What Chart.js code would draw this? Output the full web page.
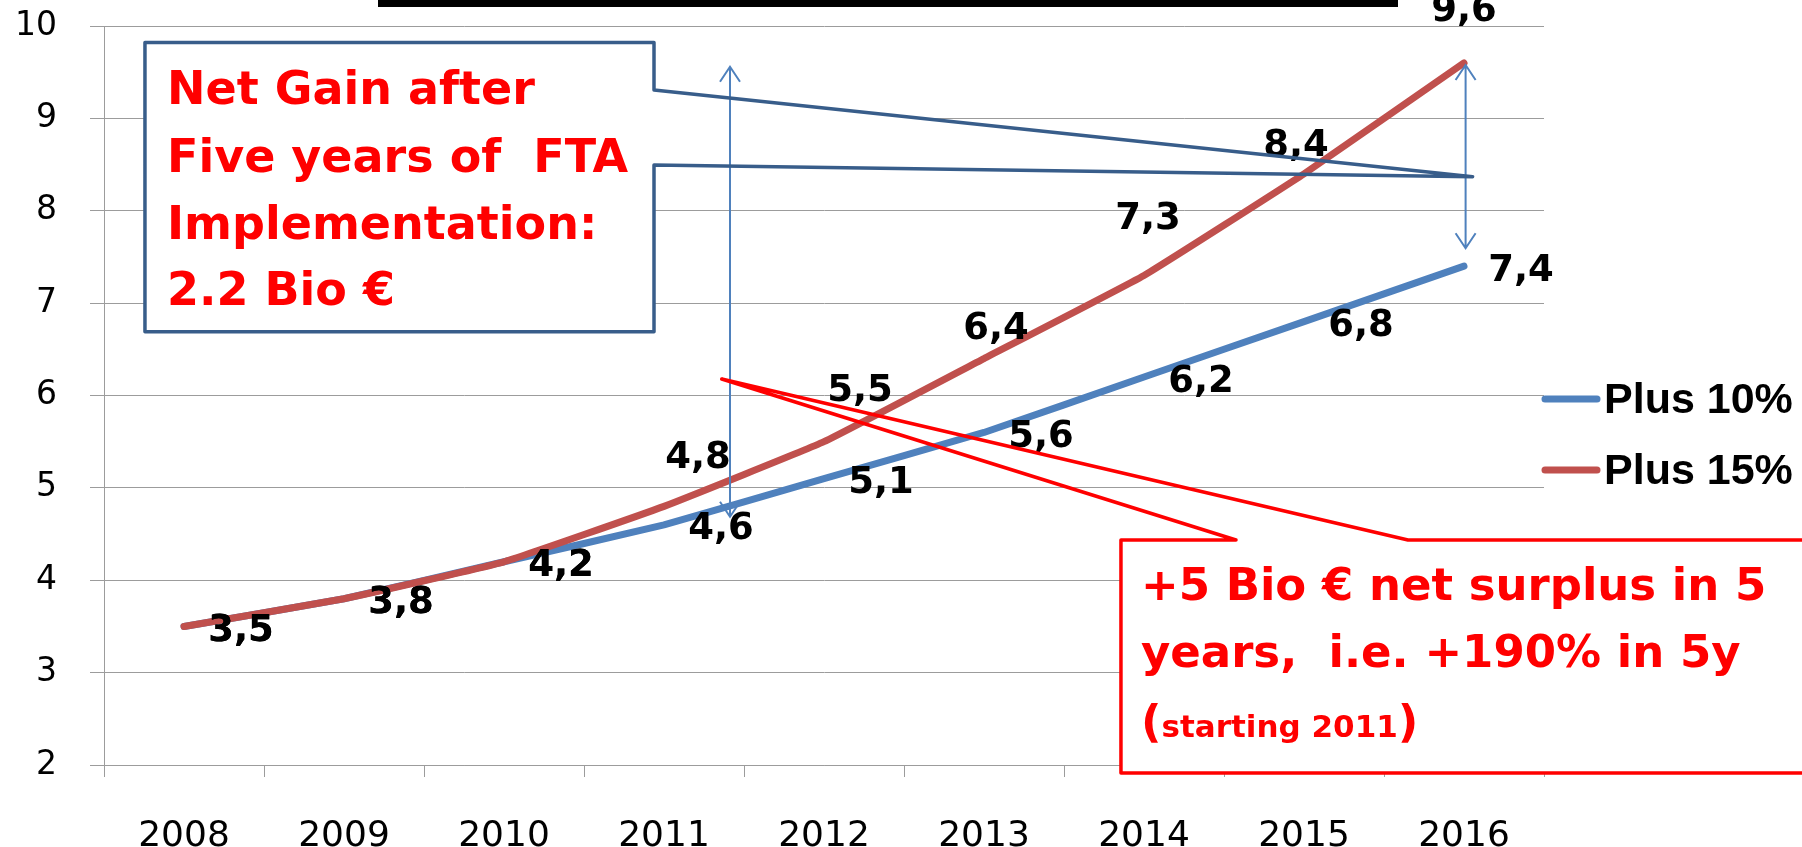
<!DOCTYPE html>
<html>
<head>
<meta charset="utf-8">
<title>FTA net gain</title>
<script src="https://cdn.jsdelivr.net/npm/chart.js@4.4.1/dist/chart.umd.min.js"></script>
<style>
  html, body { margin: 0; padding: 0; background: #fff; }
  #wrap { position: relative; width: 1802px; height: 847px; }
</style>
</head>
<body>
<div id="wrap"><canvas id="fta"></canvas></div>
<script>
// data
const years = ['2008', '2009', '2010', '2011', '2012', '2013', '2014', '2015', '2016'];
const plus10 = [3.5, 3.8, 4.2, 4.6, 5.1, 5.6, 6.2, 6.8, 7.4];
const plus15 = [3.5, 3.8, 4.2, 4.8, 5.5, 6.4, 7.3, 8.4, 9.6];
const seriesNames = ['Plus 10%', 'Plus 15%'];
const yMin = 2;
const yMax = 10;

const blue = '#4F81BD';
const red = '#C0504D';
const gridColor = '#9c9c9c';

// where each value label sits relative to its point (px)
const shift10 = years.map(() => [57, 1]);
const shift15 = [[57, 1], [57, 1], [57, 1], [34, -52], [36, -54], [12, -33], [4, -60], [-8, -31], [0, -55]];

function fmt(v) {
  return v.toFixed(1).replace('.', ',');
}

const valueLabels = {
  id: 'valueLabels',
  afterDatasetsDraw(chart) {
    const ctx = chart.ctx;
    const shifts = [shift10, shift15];
    ctx.save();
    ctx.font = 'bold 37px "DejaVu Sans"';
    ctx.fillStyle = '#000';
    ctx.textAlign = 'center';
    ctx.textBaseline = 'alphabetic';
    chart.data.datasets.forEach((ds, di) => {
      const meta = chart.getDatasetMeta(di);
      meta.data.forEach((pt, i) => {
        const s = shifts[di][i];
        ctx.fillText(fmt(ds.data[i]), pt.x + s[0], pt.y + s[1] + 13.5);
      });
    });
    ctx.restore();
  }
};

// legend drawn by hand so the line/text spacing matches
const sideLegend = {
  id: 'sideLegend',
  afterDraw(chart) {
    const ctx = chart.ctx;
    const area = chart.chartArea;
    ctx.save();
    ctx.font = 'bold 43px "Liberation Sans", Arial, sans-serif';
    ctx.textBaseline = 'alphabetic';
    chart.data.datasets.forEach((ds, i) => {
      const y = area.top + 373 + i * 71;
      ctx.strokeStyle = ds.borderColor;
      ctx.lineWidth = 7;
      ctx.lineCap = 'round';
      ctx.beginPath();
      ctx.moveTo(area.right + 1, y);
      ctx.lineTo(area.right + 53, y);
      ctx.stroke();
      ctx.fillStyle = '#000';
      ctx.fillText(ds.label, area.right + 60, y + 14);
    });
    ctx.restore();
  }
};

// callout shapes, in (category index, value) units
function blueCallout(P) {
  return [P(-0.244, 9.821), P(2.9375, 9.821), P(2.9375, 9.307), P(8.054, 8.369),
          P(2.9375, 8.495), P(2.9375, 6.691), P(-0.244, 6.691)];
}
function redCallout(P) {
  return [P(5.856, 4.436), P(6.575, 4.436), P(3.361, 6.179), P(7.65, 4.436),
          P(10.5, 4.436), P(10.5, 1.913), P(5.856, 1.913)];
}

function tracePoly(ctx, pts) {
  ctx.beginPath();
  ctx.moveTo(pts[0][0], pts[0][1]);
  for (let i = 1; i < pts.length; i++) ctx.lineTo(pts[i][0], pts[i][1]);
  ctx.closePath();
}

function doubleArrow(ctx, x, y1, y2) {
  ctx.beginPath();
  ctx.moveTo(x, y1);
  ctx.lineTo(x, y2);
  ctx.moveTo(x - 10, y1 + 15);
  ctx.lineTo(x, y1);
  ctx.lineTo(x + 10, y1 + 15);
  ctx.moveTo(x - 10, y2 - 15);
  ctx.lineTo(x, y2);
  ctx.lineTo(x + 10, y2 - 15);
  ctx.stroke();
}

const callouts = {
  id: 'callouts',
  beforeDatasetsDraw(chart) {
    const xs = chart.scales.x, ys = chart.scales.y;
    const P = (ix, v) => [xs.getPixelForValue(ix), ys.getPixelForValue(v)];
    const ctx = chart.ctx;
    ctx.save();
    ctx.fillStyle = '#fff';
    tracePoly(ctx, blueCallout(P));
    ctx.fill();
    const r = redCallout(P);
    ctx.fillRect(r[0][0], r[0][1], chart.width, r[5][1] - r[0][1]);
    ctx.restore();
  },
  afterDraw(chart) {
    const xs = chart.scales.x, ys = chart.scales.y;
    const P = (ix, v) => [xs.getPixelForValue(ix), ys.getPixelForValue(v)];
    const ctx = chart.ctx;
    ctx.save();

    // dark bar cut off at the top of the slide
    ctx.fillStyle = '#000';
    ctx.fillRect(378, 0, 1020, 7);

    // thin double arrows
    ctx.strokeStyle = blue;
    ctx.lineWidth = 2;
    ctx.lineJoin = 'miter';
    doubleArrow(ctx, xs.getPixelForValue(3.4125), ys.getPixelForValue(9.559), ys.getPixelForValue(4.688));
    doubleArrow(ctx, xs.getPixelForValue(8.01), ys.getPixelForValue(9.578), ys.getPixelForValue(7.594));

    // blue callout
    const b = blueCallout(P);
    ctx.strokeStyle = '#385D8A';
    ctx.lineWidth = 3.5;
    ctx.lineJoin = 'round';
    tracePoly(ctx, b);
    ctx.stroke();
    ctx.fillStyle = '#FF0000';
    ctx.font = 'bold 46px "DejaVu Sans"';
    ctx.textAlign = 'left';
    ctx.textBaseline = 'alphabetic';
    const bx = b[0][0] + 22, by = b[0][1];
    ctx.fillText('Net Gain after', bx, by + 61);
    ctx.fillText('Five years of  FTA', bx, by + 129);
    ctx.fillText('Implementation:', bx, by + 196);
    ctx.fillText('2.2 Bio \u20AC', bx, by + 262);

    // red callout
    const r = redCallout(P);
    ctx.strokeStyle = '#FF0000';
    ctx.lineWidth = 3.5;
    tracePoly(ctx, r);
    ctx.stroke();
    const rx = r[0][0] + 20, ry = r[0][1];
    ctx.font = 'bold 45px "DejaVu Sans"';
    ctx.fillText('+5 Bio \u20AC net surplus in 5', rx, ry + 60);
    ctx.fillText('years,  i.e. +190% in 5y', rx, ry + 127);
    ctx.fillText('(', rx, ry + 197);
    let w = ctx.measureText('(').width;
    ctx.font = 'bold 31px "DejaVu Sans"';
    ctx.fillText('starting 2011', rx + w, ry + 197);
    w += ctx.measureText('starting 2011').width;
    ctx.font = 'bold 45px "DejaVu Sans"';
    ctx.fillText(')', rx + w, ry + 197);

    ctx.restore();
  }
};

const ctx = document.getElementById('fta').getContext('2d');
const chart = new Chart(ctx, {
  type: 'line',
  data: {
    labels: years,
    datasets: [
      { label: seriesNames[0], data: plus10, borderColor: blue, order: 2 },
      { label: seriesNames[1], data: plus15, borderColor: red, order: 1 }
    ]
  },
  options: {
    responsive: true,
    maintainAspectRatio: false,
    animation: false,
    events: [],
    layout: { padding: { top: 26, right: 258, left: 0, bottom: 0 } },
    elements: {
      point: { radius: 0 },
      line: { tension: 0.1, borderWidth: 7, borderCapStyle: 'round', borderJoinStyle: 'round', fill: false }
    },
    plugins: {
      legend: { display: false },
      tooltip: { enabled: false }
    },
    scales: {
      x: {
        offset: true,
        grid: { offset: true, drawOnChartArea: false, tickLength: 12, color: gridColor, lineWidth: 1 },
        border: { color: gridColor, width: 1 },
        ticks: {
          color: '#000',
          font: { family: '"DejaVu Sans"', size: 36 },
          padding: 38,
          maxRotation: 0,
          autoSkip: false
        },
        afterFit(scale) { scale.height = 82; }
      },
      y: {
        min: yMin,
        max: yMax,
        grid: { tickLength: 14, color: gridColor, lineWidth: 1 },
        border: { color: gridColor, width: 1 },
        ticks: {
          stepSize: 1,
          color: '#000',
          font: { family: '"DejaVu Sans"', size: 33 },
          padding: 33
        },
        // fixed axis width; drop the label padding so the plot starts at the 10 line
        afterFit(scale) {
          scale.width = 104;
          scale.paddingTop = 0;
          scale.paddingBottom = 0;
        }
      }
    }
  },
  plugins: [callouts, valueLabels, sideLegend]
});
</script>
</body>
</html>
